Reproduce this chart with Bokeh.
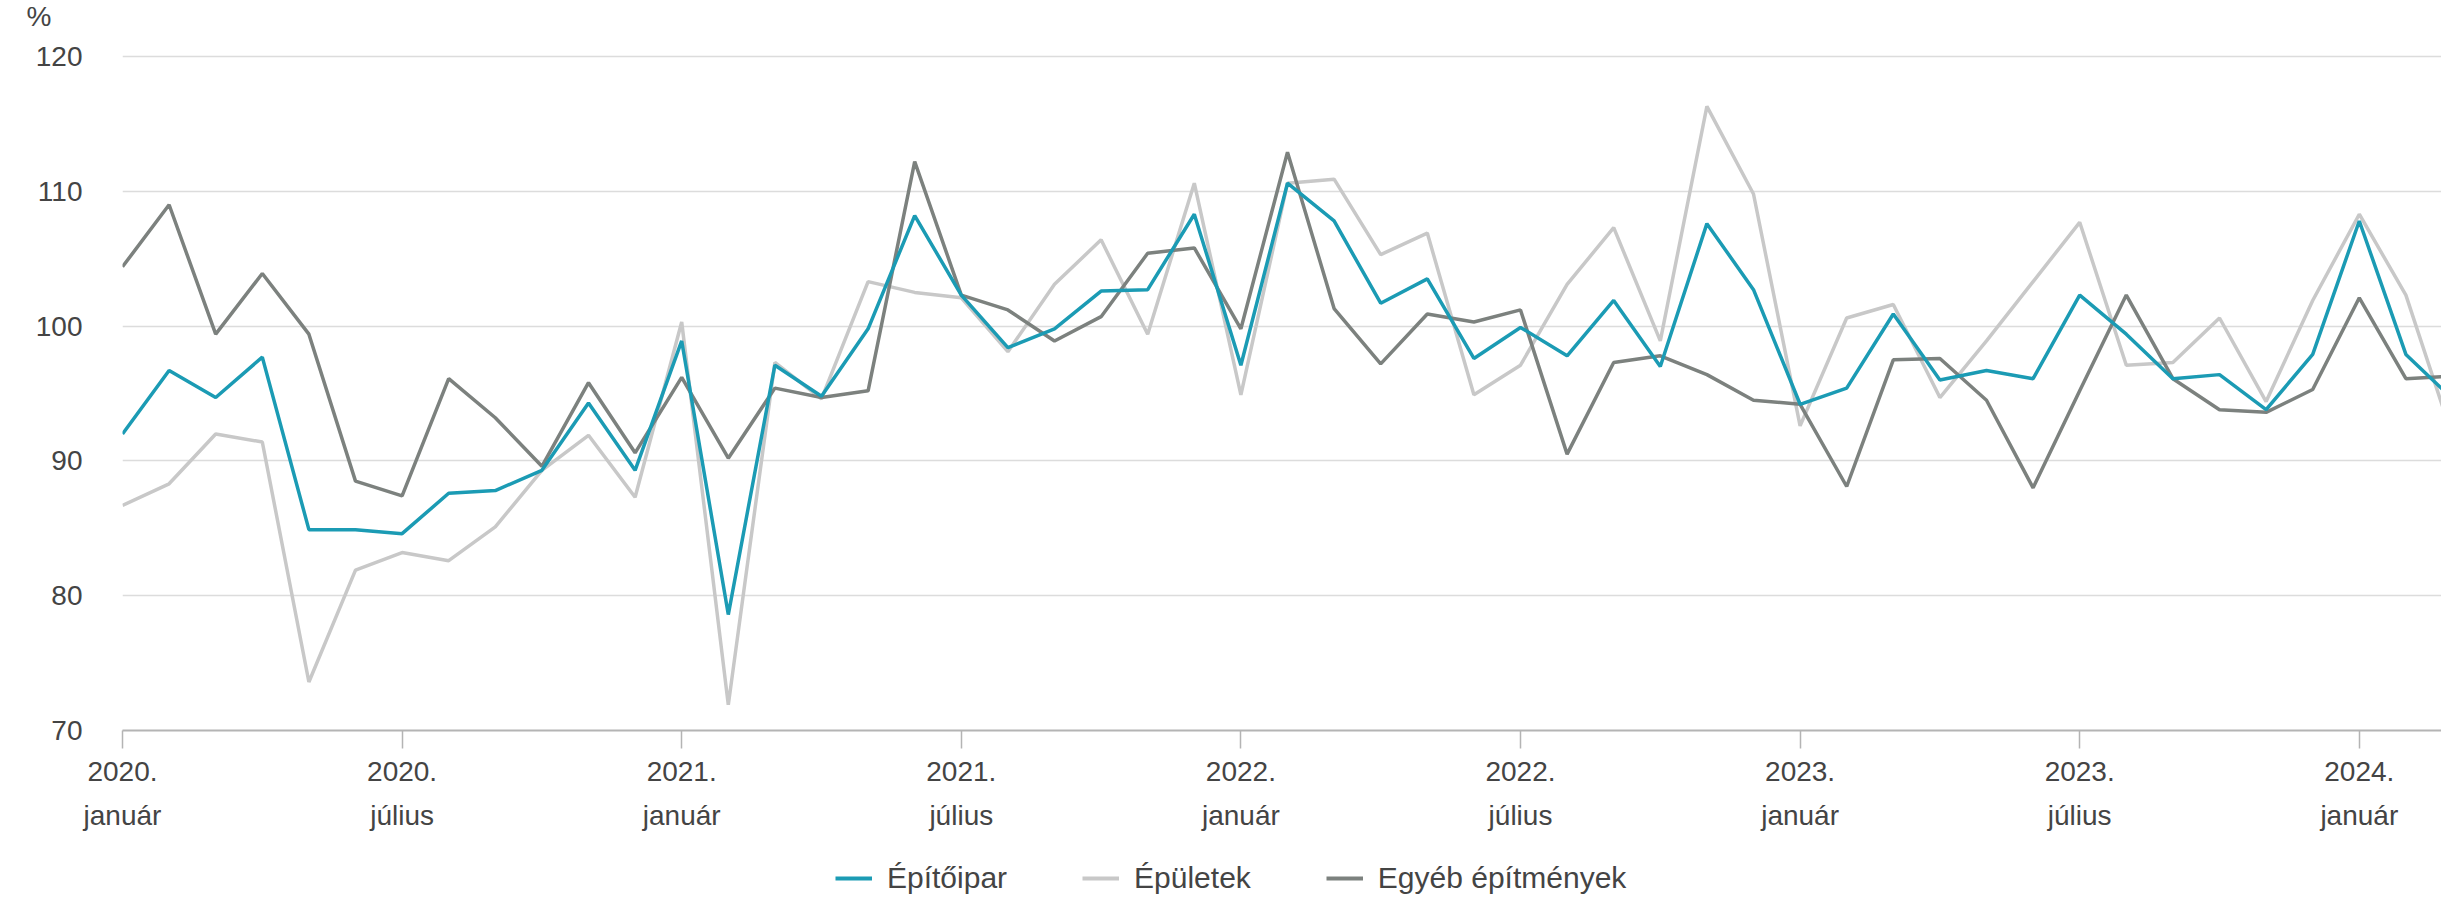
from bokeh.plotting import figure
from bokeh.layouts import column
from bokeh.models import Range1d, FixedTicker, Legend, LegendItem
from bokeh.embed import file_html
from bokeh.resources import INLINE

# month index 0 = 2020 január ... 50 = 2024 március
epitoipar = [92.0, 96.7, 94.7, 97.7, 84.9, 84.9, 84.6, 87.6, 87.8, 89.3,
             94.3, 89.3, 98.9, 78.6, 97.1, 94.8, 99.8, 108.2, 102.3, 98.4,
             99.8, 102.6, 102.7, 108.3, 97.1, 110.6, 107.8, 101.7, 103.5, 97.6,
             99.9, 97.8, 101.9, 97.0, 107.6, 102.7, 94.2, 95.4, 100.9, 96.0,
             96.7, 96.1, 102.3, 99.4, 96.1, 96.4, 93.8, 97.9, 107.8, 97.9, 94.6]
epuletek = [86.7, 88.3, 92.0, 91.4, 73.6, 81.9, 83.2, 82.6, 85.1, 89.3,
            91.9, 87.3, 100.3, 71.9, 97.3, 94.6, 103.3, 102.5, 102.1, 98.1,
            103.1, 106.4, 99.4, 110.6, 94.9, 110.6, 110.9, 105.3, 106.9, 94.9,
            97.1, 103.1, 107.3, 98.9, 116.3, 109.8, 92.6, 100.6, 101.6, 94.7,
            98.9, 103.3, 107.7, 97.1, 97.3, 100.6, 94.4, 101.9, 108.3, 102.3, 91.8]
egyeb = [104.4, 109.0, 99.4, 103.9, 99.4, 88.5, 87.4, 96.1, 93.2, 89.6,
         95.8, 90.6, 96.2, 90.2, 95.4, 94.7, 95.2, 112.2, 102.3, 101.2,
         98.9, 100.7, 105.4, 105.8, 99.8, 112.9, 101.3, 97.2, 100.9, 100.3,
         101.2, 90.5, 97.3, 97.8, 96.4, 94.5, 94.2, 88.1, 97.5, 97.6,
         94.5, 88.0, 95.2, 102.3, 96.1, 93.8, 93.6, 95.3, 102.1, 96.1, 96.3]
months = list(range(len(epitoipar)))

tick_positions = [0, 6, 12, 18, 24, 30, 36, 42, 48]
tick_labels = ["2020.\njanuár", "2020.\njúlius", "2021.\njanuár", "2021.\njúlius",
               "2022.\njanuár", "2022.\njúlius", "2023.\njanuár", "2023.\njúlius",
               "2024.\njanuár"]
y_ticks = [70, 80, 90, 100, 110, 120]
unit_tick = 123          # where the "%" unit label sits, above the 120 line
unit_label = "%"
series_names = ["Építőipar", "Épületek", "Egyéb építmények"]

FONT = "Liberation Sans"
TEXT = "#444444"
C_TEAL = "#1b9bb4"
C_LIGHT = "#c8c8c8"
C_DARK = "#7c817e"

W = 2441
LEFT = 122
MAIN_H = 846
LEG_H = 50
PX_PER_UNIT = 674 / 50.0      # 120 -> page y 64, 70 -> page y 738
FRAME_H = 730                 # frame from page y 8 to 738
px_per_month = 46.6
frame_w = W - LEFT

p = figure(width=W, height=MAIN_H, output_backend="svg", toolbar_location=None, tools="",
           x_range=Range1d(0, frame_w / px_per_month),
           y_range=Range1d(70, 70 + FRAME_H / PX_PER_UNIT))
p.min_border_left = LEFT
p.min_border_top = 0
p.min_border_right = 0
p.min_border_bottom = MAIN_H - FRAME_H
p.outline_line_color = None
p.background_fill_color = "white"
p.border_fill_color = "white"

p.xgrid.grid_line_color = None
p.ygrid.grid_line_color = "#dcdcdc"
p.ygrid.grid_line_width = 1.5
p.ygrid.ticker = FixedTicker(ticks=y_ticks)

p.yaxis.ticker = FixedTicker(ticks=y_ticks + [unit_tick])
p.yaxis.major_label_overrides = {unit_tick: unit_label + "\u00a0" * 4}
p.yaxis.axis_line_color = None
p.yaxis.major_tick_line_color = None
p.yaxis.minor_tick_line_color = None
p.yaxis.major_tick_out = 0
p.yaxis.major_tick_in = 0
p.yaxis.major_label_standoff = 40
p.yaxis.major_label_text_font = FONT
p.yaxis.major_label_text_font_size = "28px"
p.yaxis.major_label_text_color = TEXT

p.xaxis.ticker = FixedTicker(ticks=tick_positions)
p.xaxis.major_label_overrides = {t: l for t, l in zip(tick_positions, tick_labels)}
p.xaxis.axis_line_color = "#b4b4b4"
p.xaxis.axis_line_width = 2
p.xaxis.major_tick_line_color = "#b4b4b4"
p.xaxis.major_tick_line_width = 1.5
p.xaxis.major_tick_out = 18
p.xaxis.major_tick_in = 0
p.xaxis.minor_tick_line_color = None
p.xaxis.major_label_standoff = 7
p.xaxis.major_label_text_font = FONT
p.xaxis.major_label_text_font_size = "28px"
p.xaxis.major_label_text_color = TEXT
p.xaxis.major_label_text_line_height = 1.45

p.line(months, epuletek, line_color=C_LIGHT, line_width=3.5)
p.line(months, egyeb, line_color=C_DARK, line_width=3.5)
p.line(months, epitoipar, line_color=C_TEAL, line_width=3.5)

# ---- legend strip (same left border, so its frame lines up with the chart's frame)
leg = figure(width=W, height=LEG_H, output_backend="svg", toolbar_location=None, tools="",
             x_axis_location=None, y_axis_location=None,
             x_range=Range1d(0, 1), y_range=Range1d(0, 1))
leg.min_border_left = LEFT
leg.min_border_right = 0
leg.min_border_top = 0
leg.min_border_bottom = 0
leg.outline_line_color = None
leg.xgrid.grid_line_color = None
leg.ygrid.grid_line_color = None
leg.background_fill_color = "white"
leg.border_fill_color = "white"
# series drawn out of this strip's range: only their legend swatches show
l1 = leg.line(months, epitoipar, line_color=C_TEAL, line_width=4)
l2 = leg.line(months, epuletek, line_color=C_LIGHT, line_width=4)
l3 = leg.line(months, egyeb, line_color=C_DARK, line_width=4)
legend = Legend(items=[LegendItem(label=series_names[0], renderers=[l1]),
                       LegendItem(label=series_names[1], renderers=[l2]),
                       LegendItem(label=series_names[2], renderers=[l3])],
                orientation="horizontal", location=(713, 1),
                glyph_width=37, glyph_height=20, label_standoff=15, spacing=75,
                padding=0, margin=0, border_line_color=None, background_fill_alpha=0,
                label_text_font=FONT, label_text_font_size="30px",
                label_text_color=TEXT, label_height=30)
leg.add_layout(legend)

layout = column(p, leg, spacing=0)
open("out.html", "w").write(file_html(layout, INLINE))
